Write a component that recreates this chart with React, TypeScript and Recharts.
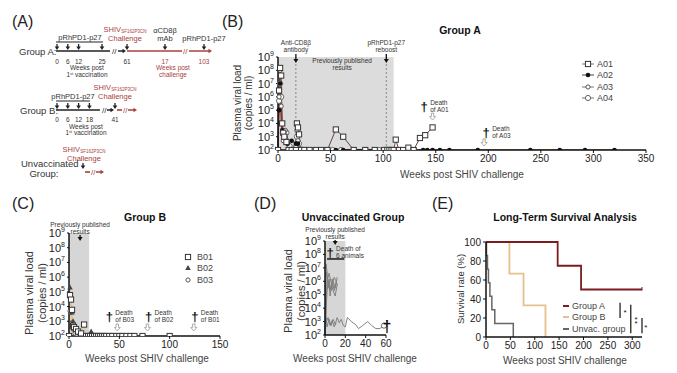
import React from 'react'
import { LineChart, Line, XAxis, YAxis, ReferenceArea, ReferenceLine, ReferenceDot, Legend } from 'recharts'

const FONT = '"Liberation Sans", Arial, sans-serif'
const RED = '#a8403c'
const DARKRED = '#7b1d20'
const TAN = '#e6c08e'
const INK = '#222'

// ---- panel B : group A viral loads ----
const a01Weeks = [0, 1, 2, 3, 4, 5, 6, 8, 10, 13, 17, 18, 19, 20, 22, 25, 30, 36, 41, 47, 55, 62, 72, 83, 92, 101, 104, 106, 108, 110, 112, 115, 119, 124, 129, 135, 140, 147]
const a01Load = [100, 3e6, 1.5e8, 4e7, 1e4, 2e3, 1e3, 400, 100, 100, 100, 1e4, 5e3, 1.5e3, 100, 100, 100, 100, 100, 100, 3500, 1000, 100, 100, 100, 100, 100, 100, 100, 100, 600, 100, 100, 150, 100, 800, 1300, 5000]
const a02Weeks = [0, 1, 2, 3, 4, 6, 9, 13, 17, 19, 21, 55, 62, 104, 114, 126, 138, 142, 147, 154, 163, 190, 240, 268, 292, 320]
const a02Load = [100, 1e5, 1e7, 1e4, 3e3, 1e3, 300, 500, 300, 300, 100, 100, 100, 100, 100, 100, 100, 100, 100, 100, 100, 100, 100, 100, 100, 100]
const a03Weeks = [0, 1, 2, 3, 4, 5, 7, 9, 12, 15, 17, 18, 19, 21, 24, 28, 33, 40, 48, 84, 93, 100, 103, 106, 109, 113, 117, 121, 126, 130]
const a03Load = [100, 1e6, 1e8, 2e5, 2e3, 500, 3e3, 300, 100, 100, 200, 3e3, 500, 100, 100, 100, 100, 100, 100, 100, 100, 100, 100, 100, 100, 100, 100, 100, 100, 100]
const a04Weeks = [0, 1, 2, 3, 4, 6, 8, 11, 14, 17, 18, 20, 23, 27, 35, 45, 52, 60, 72, 83, 96, 105, 110, 118, 124, 128]
const a04Load = [100, 5e5, 1e7, 1e6, 1e4, 1e3, 2e3, 200, 100, 100, 1e3, 300, 100, 100, 100, 100, 100, 100, 100, 100, 100, 100, 100, 100, 100, 100]

// ---- panel C : group B viral loads ----
const b01Weeks = [0, 1, 2, 3, 4, 5, 7, 9, 12, 15, 17, 19, 21, 23, 25, 27, 29, 31, 33, 35, 37, 40, 43, 47, 50, 53, 57, 61, 65, 73, 100]
const b01Load = [100, 6e4, 3e4, 6e3, 500, 400, 300, 200, 150, 600, 100, 100, 100, 100, 100, 100, 100, 100, 100, 100, 100, 100, 100, 100, 100, 100, 100, 100, 100, 100, 100]
const b02Weeks = [0, 1, 2, 3, 4, 6, 8, 11, 15, 19, 22, 26, 30, 35, 40, 45, 50, 57, 64, 71, 75]
const b02Load = [100, 2e5, 4e4, 4e3, 1e3, 300, 200, 100, 100, 100, 200, 100, 100, 100, 100, 100, 100, 100, 100, 100, 100]
const b03Weeks = [0, 1, 2, 3, 4, 6, 8, 10, 13, 16, 20, 25, 30, 35, 40, 45]
const b03Load = [100, 5e3, 4e3, 800, 300, 150, 100, 100, 100, 100, 100, 100, 100, 100, 100, 100]

// ---- panel D : unvaccinated ----
const u1Weeks = [0, 1, 2, 3, 4, 6, 8, 10, 12]
const u1Load = [100, 2e7, 5e6, 3e5, 1e6, 2e5, 1e6, 3e5, 2e6]
const u2Weeks = [0, 1, 3, 5, 7, 9, 11, 12]
const u2Load = [100, 5e6, 1e6, 2e5, 5e5, 2e6, 1e6, 5e5]
const u3Weeks = [0, 2, 4, 6, 8, 10, 12]
const u3Load = [100, 1e6, 4e6, 8e5, 2e5, 8e4, 6e5]
const u4Weeks = [0, 2, 4, 5, 7, 9, 11]
const u4Load = [100, 2e5, 1.5e6, 8e4, 1.5e6, 2e5, 1e6]
const u5Weeks = [0, 1, 2, 4, 6, 8, 10, 12, 14, 16, 18, 20, 22, 26, 30, 33, 37, 42, 46, 50, 54, 58]
const u5Load = [100, 2e3, 400, 1.5e3, 500, 1.5e3, 600, 2e3, 800, 1.5e3, 500, 400, 2e3, 1e3, 600, 300, 500, 1e3, 500, 300, 300, 500]
const u6Weeks = [0, 1, 3, 5, 7, 9, 11]
const u6Load = [100, 800, 2e3, 500, 1.2e3, 400, 800]

// ---- panel E : survival ----
const survAWeeks = [0, 147, 195, 320]
const survAPct = [100, 75, 50, 50]
const survBWeeks = [0, 48, 77, 122]
const survBPct = [100, 66.7, 33.3, 0]
const survUWeeks = [0, 1, 3, 5, 8, 12, 18, 56]
const survUPct = [100, 85.7, 71.4, 57.1, 42.9, 28.6, 14.3, 0]

const logTicks = [1e2, 1e3, 1e4, 1e5, 1e6, 1e7, 1e8, 1e9]
const ticksB = [0, 50, 100, 150, 200, 250, 300, 350]
const ticksC = [0, 50, 100, 150]
const ticksD = [0, 20, 40, 60]
const ticksEx = [0, 50, 100, 150, 200, 250, 300]
const ticksEy = [0, 20, 40, 60, 80, 100]

// panel A schedule
const vaccA = [0, 6, 12, 25]
const vaccB = [0, 6, 12, 18]

const toVl = (w: number[], v: number[]) => w.map((week, i) => ({ week, vl: v[i] }))
const toPct = (w: number[], v: number[]) => w.map((week, i) => ({ week, pct: v[i] }))

type MarkerKind = 'square' | 'dot' | 'circle' | 'circleSm' | 'triangle'

function marker (kind: MarkerKind, cx: number, cy: number, key?: any) {
  if (kind === 'square') return <rect key={key} x={cx - 2.6} y={cy - 2.6} width={5.2} height={5.2} fill="#fff" stroke="#333" strokeWidth={1} />
  if (kind === 'dot') return <circle key={key} cx={cx} cy={cy} r={2.3} fill="#111" />
  if (kind === 'circle') return <circle key={key} cx={cx} cy={cy} r={2.6} fill="#fff" stroke="#666" strokeWidth={1} />
  if (kind === 'circleSm') return <circle key={key} cx={cx} cy={cy} r={2.1} fill="#fff" stroke="#555" strokeWidth={1} />
  return <path key={key} d={`M${cx},${cy - 3} L${cx + 2.8},${cy + 2} L${cx - 2.8},${cy + 2} Z`} fill="#444" />
}

const dotOf = (kind: MarkerKind) => (p: any) => marker(kind, p.cx, p.cy, `m${p.index}`)

function PowTick (props: any) {
  const { x, y, payload } = props
  const e = Math.round(Math.log10(payload.value))
  return (
    <text x={x} y={y} dy={4} textAnchor="end" fontSize={11} fill={INK} fontFamily={FONT}>
      10<tspan dy={-5} fontSize={7}>{e}</tspan>
    </text>
  )
}

function Death ({ cx, cy, l1, l2 }: any) {
  return (
    <g fontFamily={FONT}>
      <text x={cx} y={cy + 5} textAnchor="middle" fontSize={13} fontWeight="bold" fill="#111">†</text>
      <text x={cx + 6} y={cy - 1} fontSize={6.5} fill="#333">{l1}</text>
      <text x={cx + 6} y={cy + 6} fontSize={6.5} fill="#333">{l2}</text>
    </g>
  )
}

function OpenArrow ({ cx, cy }: any) {
  return (
    <path d={`M${cx - 1.2},${cy - 4} L${cx + 1.2},${cy - 4} L${cx + 1.2},${cy - 0.5} L${cx + 3},${cy - 0.5} L${cx},${cy + 3} L${cx - 3},${cy - 0.5} L${cx - 1.2},${cy - 0.5} Z`} fill="#fff" stroke="#999" strokeWidth={0.8} />
  )
}

function TopNote ({ cx, cy, lines, arrow, dy = 0 }: any) {
  return (
    <g fontFamily={FONT}>
      {lines.map((t: string, i: number) => (
        <text key={i} x={cx} y={cy + dy + i * 6.5} textAnchor="middle" fontSize={6.5} fill="#333">{t}</text>
      ))}
      {arrow && <>
        <line x1={cx} y1={arrow[0]} x2={cx} y2={arrow[1] - 3} stroke="#111" strokeWidth={1.3} />
        <path d={`M${cx - 2.5},${arrow[1] - 4} L${cx + 2.5},${arrow[1] - 4} L${cx},${arrow[1]} Z`} fill="#111" />
      </>}
    </g>
  )
}

function LegendList ({ items, size = 9, lineW = 12 }: { items: { name: string, kind?: MarkerKind, color: string, width?: number }[], size?: number, lineW?: number }) {
  return (
    <div style={{ fontFamily: FONT, fontSize: size, color: '#444' }}>
      {items.map(it => (
        <div key={it.name} style={{ display: 'flex', alignItems: 'center', height: size + 2.5, whiteSpace: 'nowrap' }}>
          <svg width={lineW} height={8} style={{ overflow: 'visible' }}>
            <line x1={0} y1={4} x2={lineW} y2={4} stroke={it.color} strokeWidth={it.width ?? 1} />
            {it.kind && marker(it.kind, lineW / 2, 4)}
          </svg>
          <span style={{ marginLeft: 3 }}>{it.name}</span>
        </div>
      ))}
    </div>
  )
}

const axisLine = { stroke: '#111', strokeWidth: 1.5 }
const tickStyle = { fontSize: 10, fill: INK, fontFamily: FONT }

function PanelB () {
  return (
    <LineChart width={460} height={160} margin={{ top: 37, right: 14, bottom: 0, left: 18 }}>
      <ReferenceArea x1={0} x2={110} y1={100} y2={1e9} fill="#dcdcdc" fillOpacity={1} stroke="none" ifOverflow="hidden" />
      <ReferenceLine x={17} stroke="#888" strokeDasharray="2 2" />
      <ReferenceLine x={103} stroke="#888" strokeDasharray="2 2" />
      <XAxis type="number" dataKey="week" domain={[0, 350]} ticks={ticksB} interval={0} height={30} axisLine={axisLine} tickLine={{ stroke: '#111' }} tickSize={3} tick={tickStyle} />
      <YAxis type="number" scale="log" domain={[1e2, 1e9]} allowDataOverflow ticks={logTicks} interval={0} width={60} axisLine={axisLine} tickLine={{ stroke: '#111' }} tickSize={2} tick={<PowTick />} />
      <Line data={toVl(a04Weeks, a04Load)} dataKey="vl" stroke={RED} strokeWidth={1} dot={dotOf('circle')} isAnimationActive={false} />
      <Line data={toVl(a03Weeks, a03Load)} dataKey="vl" stroke={RED} strokeWidth={1} dot={dotOf('circleSm')} isAnimationActive={false} />
      <Line data={toVl(a02Weeks, a02Load)} dataKey="vl" stroke={DARKRED} strokeWidth={1} dot={dotOf('dot')} isAnimationActive={false} />
      <Line data={toVl(a01Weeks, a01Load)} dataKey="vl" stroke="#6b4040" strokeWidth={1} dot={dotOf('square')} isAnimationActive={false} />
      <ReferenceDot x={17} y={1e9} ifOverflow="visible" shape={(p: any) => <TopNote cx={p.cx} cy={p.cy} dy={-12} lines={['Anti-CD8β', 'antibody']} arrow={[p.cy - 3, p.cy + 6]} />} />
      <ReferenceDot x={103} y={1e9} ifOverflow="visible" shape={(p: any) => <TopNote cx={p.cx} cy={p.cy} dy={-12} lines={['pRhPD1-p27', 'reboost']} arrow={[p.cy - 3, p.cy + 6]} />} />
      <ReferenceDot x={61} y={1e9} ifOverflow="visible" shape={(p: any) => <TopNote cx={p.cx} cy={p.cy} dy={6} lines={['Previously published', 'results']} />} />
      <ReferenceDot x={139} y={2e5} shape={(p: any) => <Death cx={p.cx} cy={p.cy} l1="Death" l2="of A01" />} />
      <ReferenceDot x={147} y={3e4} shape={(p: any) => <OpenArrow cx={p.cx} cy={p.cy} />} />
      <ReferenceDot x={198} y={2.3e3} shape={(p: any) => <Death cx={p.cx} cy={p.cy} l1="Death" l2="of A03" />} />
      <ReferenceDot x={196} y={340} shape={(p: any) => <OpenArrow cx={p.cx} cy={p.cy} />} />
      <Legend layout="vertical" align="center" verticalAlign="middle" wrapperStyle={{ left: 382, top: 38, width: 60 }}
        content={() => <LegendList items={[
          { name: 'A01', kind: 'square', color: '#777' },
          { name: 'A02', kind: 'dot', color: '#444' },
          { name: 'A03', kind: 'circleSm', color: '#777' },
          { name: 'A04', kind: 'circle', color: '#777' }
        ]} />} />
    </LineChart>
  )
}

function PanelC () {
  return (
    <LineChart width={240} height={160} margin={{ top: 33, right: 20, bottom: 0, left: 9 }}>
      <ReferenceArea x1={0} x2={20} y1={100} y2={1e9} fill="#d6d6d6" fillOpacity={1} stroke="none" />
      <XAxis type="number" dataKey="week" domain={[0, 150]} ticks={ticksC} interval={0} height={24} axisLine={axisLine} tickLine={{ stroke: '#111' }} tickSize={3} tick={tickStyle} />
      <YAxis type="number" scale="log" domain={[1e2, 1e9]} allowDataOverflow ticks={logTicks} interval={0} width={60} axisLine={axisLine} tickLine={{ stroke: '#111' }} tickSize={2} tick={<PowTick />} />
      <Line data={toVl(b03Weeks, b03Load)} dataKey="vl" stroke={TAN} strokeWidth={1} dot={dotOf('circleSm')} isAnimationActive={false} />
      <Line data={toVl(b02Weeks, b02Load)} dataKey="vl" stroke={TAN} strokeWidth={1} dot={dotOf('triangle')} isAnimationActive={false} />
      <Line data={toVl(b01Weeks, b01Load)} dataKey="vl" stroke={TAN} strokeWidth={1} dot={dotOf('square')} isAnimationActive={false} />
      <ReferenceDot x={11} y={1e9} ifOverflow="visible" shape={(p: any) => <TopNote cx={p.cx} cy={p.cy} dy={-6} lines={['Previously published', 'results']} arrow={[p.cy + 2, p.cy + 8]} />} />
      <ReferenceDot x={40} y={2.2e3} shape={(p: any) => <Death cx={p.cx} cy={p.cy} l1="Death" l2="of B03" />} />
      <ReferenceDot x={48} y={350} shape={(p: any) => <OpenArrow cx={p.cx} cy={p.cy} />} />
      <ReferenceDot x={79} y={2.2e3} shape={(p: any) => <Death cx={p.cx} cy={p.cy} l1="Death" l2="of B02" />} />
      <ReferenceDot x={78} y={350} shape={(p: any) => <OpenArrow cx={p.cx} cy={p.cy} />} />
      <ReferenceDot x={125} y={2.2e3} shape={(p: any) => <Death cx={p.cx} cy={p.cy} l1="Death" l2="of B01" />} />
      <ReferenceDot x={124} y={350} shape={(p: any) => <OpenArrow cx={p.cx} cy={p.cy} />} />
      <Legend layout="vertical" align="center" verticalAlign="middle" wrapperStyle={{ left: 182, top: 51, width: 50 }}
        content={() => <LegendList items={[
          { name: 'B01', kind: 'square', color: '#fff' },
          { name: 'B02', kind: 'triangle', color: '#fff' },
          { name: 'B03', kind: 'circleSm', color: '#fff' }
        ]} />} />
    </LineChart>
  )
}

function PanelD () {
  const unvac = [[u1Weeks, u1Load], [u2Weeks, u2Load], [u3Weeks, u3Load], [u4Weeks, u4Load], [u6Weeks, u6Load], [u5Weeks, u5Load]]
  return (
    <LineChart width={140} height={160} margin={{ top: 41, right: 14, bottom: 0, left: 5 }}>
      <ReferenceArea x1={0} x2={20} y1={100} y2={1e9} fill="#d6d6d6" fillOpacity={1} stroke="none" />
      <XAxis type="number" dataKey="week" domain={[0, 60]} ticks={ticksD} interval={0} height={25} axisLine={axisLine} tickLine={{ stroke: '#111' }} tickSize={3} tick={tickStyle} />
      <YAxis type="number" scale="log" domain={[1e2, 1e9]} allowDataOverflow ticks={logTicks} interval={0} width={60} axisLine={axisLine} tickLine={{ stroke: '#111' }} tickSize={2} tick={<PowTick />} />
      {unvac.map(([w, v], i) => (
        <Line key={i} data={toVl(w, v)} dataKey="vl" stroke="#808080" strokeWidth={1} isAnimationActive={false}
          dot={(p: any) => (i === unvac.length - 1 && p.index === w.length - 1) ? marker('circle', p.cx, p.cy, `e${p.index}`) : <g key={`n${p.index}`} />} />
      ))}
      <ReferenceLine segment={[{ x: 2, y: 4.6e7 }, { x: 19, y: 4.6e7 }]} stroke="#444" strokeWidth={2} />
      <ReferenceDot x={10} y={1e9} ifOverflow="visible" shape={(p: any) => <TopNote cx={p.cx} cy={p.cy} dy={-9} lines={['Previously published', 'results']} arrow={[p.cy - 1, p.cy + 4]} />} />
      <ReferenceDot x={5} y={1.5e8} shape={(p: any) => <Death cx={p.cx} cy={p.cy} l1="Death of" l2="6 animals" />} />
      <ReferenceDot x={61} y={460} ifOverflow="visible" shape={(p: any) => <text x={p.cx} y={p.cy + 6} textAnchor="middle" fontSize={16} fontWeight="bold" fontFamily={FONT} fill="#111">†</text>} />
    </LineChart>
  )
}

function Star ({ cx, cy, n = 1 }: any) {
  return (
    <g fontFamily={FONT} fontSize={8} fill="#111" textAnchor="middle">
      {Array.from({ length: n }, (_, i) => <text key={i} x={cx} y={cy + 3 + i * 4.5 - (n - 1) * 2.2}>*</text>)}
    </g>
  )
}

function PanelE () {
  return (
    <LineChart width={215} height={160} margin={{ top: 42, right: 13, bottom: 0, left: 6 }}>
      <XAxis type="number" dataKey="week" domain={[0, 320]} ticks={ticksEx} interval={0} height={23} axisLine={axisLine} tickLine={{ stroke: '#111' }} tickSize={3} tick={tickStyle} />
      <YAxis type="number" domain={[0, 100]} ticks={ticksEy} interval={0} width={40} axisLine={axisLine} tickLine={{ stroke: '#111' }} tickSize={3} tick={tickStyle} />
      <Line type="stepAfter" data={toPct(survUWeeks, survUPct)} dataKey="pct" stroke="#666" strokeWidth={1.5} dot={false} isAnimationActive={false} />
      <Line type="stepAfter" data={toPct(survBWeeks, survBPct)} dataKey="pct" stroke={TAN} strokeWidth={1.8} dot={false} isAnimationActive={false} />
      <Line type="stepAfter" data={toPct(survAWeeks, survAPct)} dataKey="pct" stroke={DARKRED} strokeWidth={1.8} isAnimationActive={false}
        dot={(p: any) => p.index === survAWeeks.length - 1 ? <line key="c" x1={p.cx} y1={p.cy - 2.5} x2={p.cx} y2={p.cy + 1} stroke={DARKRED} strokeWidth={1} /> : <g key={`n${p.index}`} />} />
      <ReferenceLine segment={[{ x: 275, y: 36 }, { x: 275, y: 20 }]} stroke="#111" strokeWidth={1.2} />
      <ReferenceLine segment={[{ x: 297, y: 34 }, { x: 297, y: 4 }]} stroke="#111" strokeWidth={1.2} />
      <ReferenceLine segment={[{ x: 320, y: 20 }, { x: 320, y: 4 }]} stroke="#111" strokeWidth={1.2} ifOverflow="visible" />
      <ReferenceDot x={285} y={26} ifOverflow="visible" shape={(p: any) => <Star cx={p.cx} cy={p.cy} />} />
      <ReferenceDot x={308} y={17} ifOverflow="visible" shape={(p: any) => <Star cx={p.cx} cy={p.cy} n={2} />} />
      <ReferenceDot x={328} y={11} ifOverflow="visible" shape={(p: any) => <Star cx={p.cx} cy={p.cy} />} />
      <Legend layout="vertical" align="center" verticalAlign="middle" wrapperStyle={{ left: 123, top: 100, width: 80 }}
        content={() => <LegendList size={9} lineW={6} items={[
          { name: 'Group A', color: DARKRED, width: 2 },
          { name: 'Group B', color: TAN, width: 2 },
          { name: 'Unvac. group', color: '#666', width: 2 }
        ]} />} />
    </LineChart>
  )
}

function DownArrow ({ x, y1, y2, color = INK }: any) {
  return (
    <g>
      <line x1={x} y1={y1} x2={x} y2={y2 - 3} stroke={color} strokeWidth={1.3} />
      <path d={`M${x - 2.3},${y2 - 3.5} L${x + 2.3},${y2 - 3.5} L${x},${y2} Z`} fill={color} />
    </g>
  )
}

function RightArrow ({ x1, x2, y, color = INK }: any) {
  return (
    <g>
      <line x1={x1} y1={y} x2={x2 - 3} y2={y} stroke={color} strokeWidth={1.5} />
      <path d={`M${x2 - 3.5},${y - 2.3} L${x2 - 3.5},${y + 2.3} L${x2},${y} Z`} fill={color} />
    </g>
  )
}

function Shiv ({ x, y }: any) {
  return (
    <g fill={RED} fontSize={7.5} textAnchor="middle">
      <text x={x} y={y}>SHIV<tspan fontSize={4.5} dy={1}>SF162P3CN</tspan></text>
      <text x={x} y={y + 8.5}>Challenge</text>
    </g>
  )
}

function Schedule () {
  const vx = (w: number) => 57 + 1.8 * w
  const small = 6.5
  return (
    <g fontFamily={FONT} fill="#333">
      {/* group A */}
      <text x={19} y={54.5} fontSize={9.5}>Group A:</text>
      <line x1={56} y1={51} x2={110} y2={51} stroke={INK} strokeWidth={1.6} />
      <text x={112} y={54} fontSize={8} fill={INK}>//</text>
      <RightArrow x1={118} x2={126} y={51} />
      <line x1={127} y1={51} x2={182} y2={51} stroke={RED} strokeWidth={1.6} />
      <text x={183} y={54} fontSize={8} fill={RED}>//</text>
      <RightArrow x1={189} x2={212} y={51} color={RED} />
      <line x1={56} y1={42} x2={103} y2={42} stroke={INK} strokeWidth={1} />
      <text x={80} y={40} fontSize={7.5} textAnchor="middle">pRhPD1-p27</text>
      {vaccA.map(w => <DownArrow key={w} x={vx(w)} y1={44} y2={50} />)}
      {vaccA.map(w => <text key={w} x={vx(w)} y={63.5} fontSize={small} textAnchor="middle">{w}</text>)}
      <DownArrow x={127} y1={44} y2={50} />
      <DownArrow x={165} y1={44} y2={50} />
      <DownArrow x={204} y1={44} y2={50} />
      <text x={127} y={63.5} fontSize={small} textAnchor="middle">61</text>
      <text x={165} y={63.5} fontSize={small} textAnchor="middle" fill={RED}>17</text>
      <text x={204} y={63.5} fontSize={small} textAnchor="middle" fill={RED}>103</text>
      <text x={87} y={70} fontSize={small} textAnchor="middle">Weeks post</text>
      <text x={87} y={76.5} fontSize={small} textAnchor="middle">1<tspan fontSize={4} dy={-2}>st</tspan><tspan dy={2}> vaccination</tspan></text>
      <Shiv x={125} y={32} />
      <text x={165} y={33} fontSize={7.5} textAnchor="middle">αCD8β</text>
      <text x={165} y={40.5} fontSize={7.5} textAnchor="middle">mAb</text>
      <text x={204} y={40.5} fontSize={7.5} textAnchor="middle">pRhPD1-p27</text>
      <text x={173} y={70} fontSize={small} textAnchor="middle" fill={RED}>Weeks post</text>
      <text x={173} y={76.5} fontSize={small} textAnchor="middle" fill={RED}>challenge</text>

      {/* group B */}
      <text x={20} y={114} fontSize={9.5}>Group B:</text>
      <line x1={56} y1={110} x2={100} y2={110} stroke={INK} strokeWidth={1.6} />
      <text x={102} y={113} fontSize={8} fill={INK}>//</text>
      <RightArrow x1={107} x2={114} y={110} />
      <line x1={56} y1={101} x2={90} y2={101} stroke={INK} strokeWidth={1} />
      <text x={73} y={99} fontSize={7.5} textAnchor="middle">pRhPD1-p27</text>
      {vaccB.map(w => <DownArrow key={w} x={vx(w)} y1={103} y2={109} />)}
      {vaccB.map(w => <text key={w} x={vx(w)} y={122} fontSize={small} textAnchor="middle">{w}</text>)}
      <DownArrow x={115} y1={103} y2={109} />
      <text x={115} y={122} fontSize={small} textAnchor="middle">41</text>
      <line x1={117} y1={110} x2={122} y2={110} stroke={RED} strokeWidth={1.6} />
      <text x={123} y={113} fontSize={8} fill={RED}>//</text>
      <RightArrow x1={128} x2={137} y={110} color={RED} />
      <text x={86} y={128.5} fontSize={small} textAnchor="middle">Weeks post</text>
      <text x={86} y={135} fontSize={small} textAnchor="middle">1<tspan fontSize={4} dy={-2}>st</tspan><tspan dy={2}> vaccination</tspan></text>
      <Shiv x={115} y={90} />

      {/* unvaccinated */}
      <text x={21} y={167} fontSize={9.5}>Unvaccinated</text>
      <text x={44} y={176.5} fontSize={9.5} textAnchor="middle">Group:</text>
      <Shiv x={84} y={152} />
      <DownArrow x={83} y1={163} y2={169} />
      <line x1={85} y1={172} x2={90} y2={172} stroke={RED} strokeWidth={1.6} />
      <text x={91} y={175} fontSize={8} fill={RED}>//</text>
      <RightArrow x1={96} x2={104} y={172} color={RED} />
    </g>
  )
}

function YTitle ({ x, y, lines, size }: any) {
  return (
    <g transform={`translate(${x},${y}) rotate(-90)`}>
      {lines.map((t: string, i: number) => (
        <text key={i} x={0} y={i * size * 1.15} textAnchor="middle" dominantBaseline="central" fontSize={size} fill="#333">{t}</text>
      ))}
    </g>
  )
}

export default function App () {
  const place = (left: number, top: number): React.CSSProperties => ({ position: 'absolute', left, top })
  return (
    <div style={{ position: 'absolute', left: 0, top: 0, width: 677, height: 373, background: '#fff', fontFamily: FONT, overflow: 'hidden' }}>
      <div style={place(200, 20)}><PanelB /></div>
      <div style={place(0, 200)}><PanelC /></div>
      <div style={place(260, 200)}><PanelD /></div>
      <div style={place(440, 200)}><PanelE /></div>
      <svg width={677} height={373} style={{ position: 'absolute', left: 0, top: 0, pointerEvents: 'none' }} fontFamily={FONT}>
        <g fontSize={16} fill="#222">
          <text x={12} y={27}>(A)</text>
          <text x={222} y={27}>(B)</text>
          <text x={12} y={209}>(C)</text>
          <text x={254} y={209}>(D)</text>
          <text x={432} y={209}>(E)</text>
        </g>
        <Schedule />
        <g fontWeight="bold" fontSize={10.5} fill="#111" textAnchor="middle">
          <text x={460} y={34}>Group A</text>
          <text x={145} y={221}>Group B</text>
          <text x={353} y={221}>Unvaccinated Group</text>
          <text x={565} y={221}>Long-Term Survival Analysis</text>
        </g>
        <g fontSize={10} fill="#444" textAnchor="middle">
          <text x={462} y={178}>Weeks post SHIV challenge</text>
          <text x={147} y={362}>Weeks post SHIV challenge</text>
          <text x={355} y={362}>Weeks post SHIV challenge</text>
          <text x={565} y={364}>Weeks post SHIV challenge</text>
        </g>
        <YTitle x={237} y={103} lines={['Plasma viral load', '(copies / ml)']} size={10} />
        <YTitle x={29} y={293} lines={['Plasma viral load', '(copies / ml)']} size={11} />
        <YTitle x={288} y={291} lines={['Plasma viral load', '(copies / ml)']} size={11} />
        <YTitle x={460} y={289} lines={['Survival rate (%)']} size={9.5} />
      </svg>
    </div>
  )
}
